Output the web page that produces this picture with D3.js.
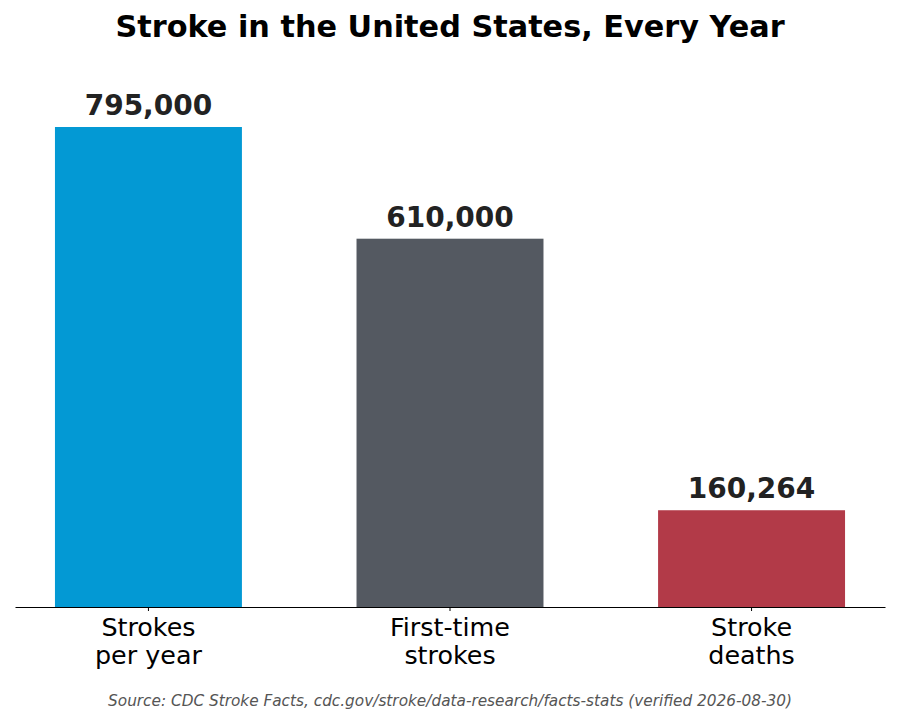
<!DOCTYPE html>
<html>
<head>
<meta charset="utf-8">
<script src="https://cdn.jsdelivr.net/npm/d3@7"></script>
<style>
  body { margin: 0; background: #fff; }
  svg { display: block; font-family: "DejaVu Sans", sans-serif; }
</style>
</head>
<body>
<svg id="chart"></svg>
<script>
// data
const categories = ['Strokes\nper year', 'First-time\nstrokes', 'Stroke\ndeaths'];
const values = [795000, 610000, 160264];
const valueLabels = ['795,000', '610,000', '160,264'];
const colors = ['#0399d4', '#545961', '#b23a48'];

const width = 900;
const height = 720;
const margin = { top: 55, right: 15, bottom: 113, left: 15 };

const svg = d3.select('#chart')
    .attr('width', width)
    .attr('height', height);

const xScale = d3.scaleBand()
    .domain(categories)
    .range([margin.left, width - margin.right])
    .paddingInner(0.38)
    .paddingOuter(0.1325);

const yScale = d3.scaleLinear()
    .domain([0, d3.max(values) * 1.15])
    .range([height - margin.bottom, margin.top]);

svg.append('text')
    .attr('x', width / 2)
    .attr('y', 37)
    .attr('text-anchor', 'middle')
    .attr('font-size', 30.3)
    .attr('font-weight', 'bold')
    .attr('fill', '#000')
    .text('Stroke in the United States, Every Year');

svg.selectAll('rect.bar')
    .data(values)
  .enter().append('rect')
    .attr('class', 'bar')
    .attr('x', (d, i) => xScale(categories[i]))
    .attr('width', xScale.bandwidth())
    .attr('y', d => yScale(d))
    .attr('height', d => yScale(0) - yScale(d))
    .attr('fill', (d, i) => colors[i]);

svg.selectAll('text.value')
    .data(values)
  .enter().append('text')
    .attr('class', 'value')
    .attr('x', (d, i) => xScale(categories[i]) + xScale.bandwidth() / 2)
    .attr('y', d => yScale(d) - 12)
    .attr('text-anchor', 'middle')
    .attr('font-size', 28)
    .attr('font-weight', 'bold')
    .attr('fill', '#222')
    .text((d, i) => valueLabels[i]);

const xAxis = d3.axisBottom(xScale).tickSize(4).tickSizeOuter(0).tickFormat('');

const axisG = svg.append('g')
    .attr('transform', 'translate(0,' + yScale(0) + ')')
    .call(xAxis);

axisG.select('.domain').attr('stroke', '#000').attr('stroke-width', 1);
axisG.selectAll('.tick line').attr('stroke', '#000');

axisG.selectAll('.tick')
  .append('text')
    .attr('fill', '#000')
    .attr('font-size', 25.4)
    .attr('text-anchor', 'middle')
    .attr('font-family', '"DejaVu Sans", sans-serif')
    .each(function(d) {
      const lines = d.split('\n');
      d3.select(this).selectAll('tspan')
        .data(lines)
        .enter().append('tspan')
          .attr('x', 0)
          .attr('y', (l, i) => 29 + i * 27.5)
          .text(l => l);
    });

svg.append('text')
    .attr('x', width / 2)
    .attr('y', 706)
    .attr('text-anchor', 'middle')
    .attr('font-size', 15.3)
    .attr('font-style', 'italic')
    .attr('fill', '#555')
    .text('Source: CDC Stroke Facts, cdc.gov/stroke/data-research/facts-stats (verified 2026-08-30)');
</script>
</body>
</html>
